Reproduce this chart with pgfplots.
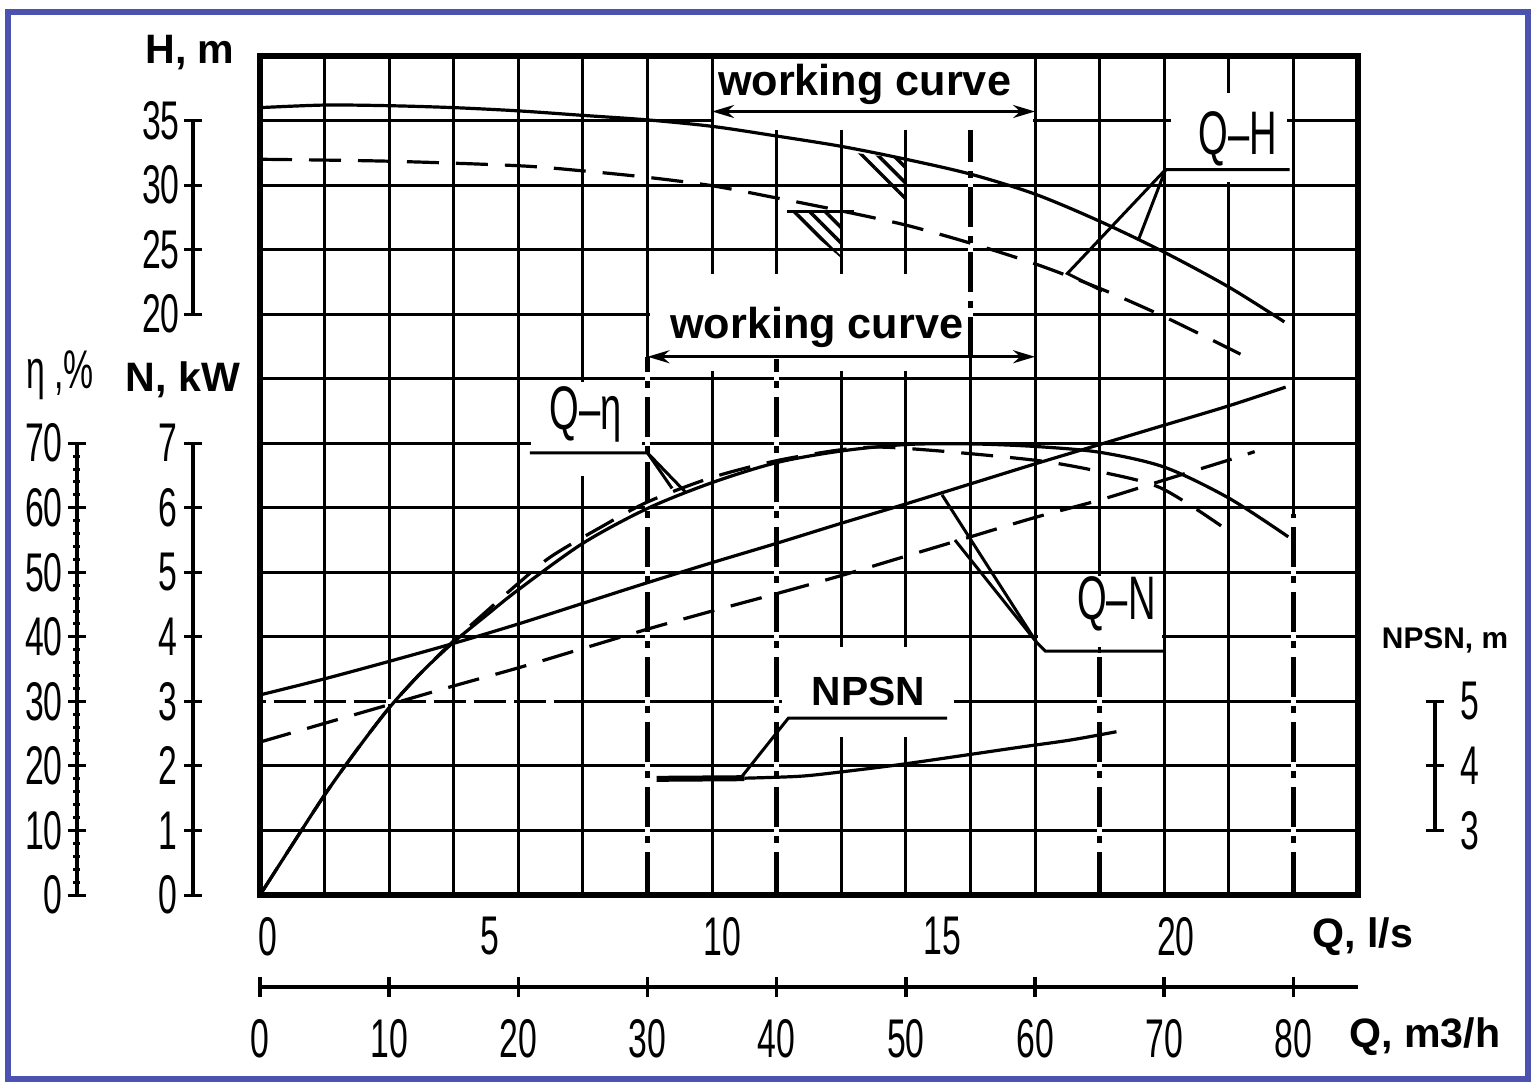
\documentclass[border=0pt]{standalone}
\usepackage{fontspec}
\setmainfont{Liberation Sans}
\newfontfamily\cond[FakeStretch=0.62]{Liberation Sans}
\usepackage{pgfplots}
\pgfplotsset{compat=1.18}
\usetikzlibrary{patterns,patterns.meta,arrows.meta}
\definecolor{frameblue}{RGB}{76,82,176}
\newcommand\tickfont{\cond\fontsize{15.5}{16}\selectfont}
\newcommand\curvefont{\cond\fontsize{17.5}{18}\selectfont}
\newcommand\namefont{\bfseries\fontsize{11.7}{13}\selectfont}
\pgfplotsset{
  base/.style={at={(0,0)}, anchor=south west, scale only axis, width=109.8mm, height=83.9mm, xmin=0, xmax=85},
  hid/.style={base, hide axis},
  curve/.style={black, line width=0.32mm, smooth, tension=0.5, no marks},
  dcurve/.style={curve, dash pattern=on 3.2mm off 1.7mm},
  bar/.style={scale only axis, width=1mm, xmin=0, xmax=1, hide x axis,
    axis line style={-, line width=0.35mm}, tick align=center,
    major tick length=1.8mm, minor tick length=1mm,
    tick style={black, line width=0.3mm}, yticklabel style={font=\tickfont},
    /pgf/number format/assume math mode=true},
}
\tikzset{wc/.style={line width=0.3mm, {Stealth[length=2.2mm,width=1.3mm]}-{Stealth[length=2.2mm,width=1.3mm]}},
  ld/.style={line width=0.3mm},
  dd/.style={black, line width=0.45mm, dash pattern=on 4mm off 0.9mm on 0.7mm off 0.9mm},
  wu/.style={white, line width=0.55mm},
  hatch/.style={pattern={Lines[angle=-45, distance=1.1mm, line width=0.35mm]}}}
\begin{document}
\begin{tikzpicture}
\fill[white] (-26mm,-18.7mm) rectangle (127.1mm,89.5mm);
\draw[frameblue, line width=0.55mm] (-25.2mm,-18.4mm) rectangle (126.8mm,88.3mm);

% ---------- grid axis (x: Q m3/h, y: grid units) ----------
\begin{axis}[base, ymin=0, ymax=13,
  xtick={0.6,17.8,35.8,52.8,70.9}, xticklabels={0,5,10,15,20},
  ytick={0,1,...,13}, yticklabels={},
  minor xtick={0,5,...,85},
  xminorgrids=true, ymajorgrids=true, xmajorgrids=false,
  minor grid style={black, line width=0.3mm}, major grid style={black, line width=0.3mm},
  major tick length=0pt, minor tick length=0pt,
  axis line style={line width=0.55mm},
  xticklabel style={font=\tickfont, yshift=-1.0mm},
  clip=false]
% label boxes
\fill[white] (axis cs:35.15,11.85) rectangle (axis cs:59.85,12.95);
\fill[white] (axis cs:30.2,8.12) rectangle (axis cs:54.85,9.62);
\fill[white] (axis cs:70.5,11.05) rectangle (axis cs:79.5,12.43);
\fill[white] (axis cs:21.0,6.5) rectangle (axis cs:29.55,7.95);
\fill[white] (axis cs:60.2,3.85) rectangle (axis cs:69.8,4.95);
\fill[white] (axis cs:40.4,2.45) rectangle (axis cs:53.7,3.84);
\draw[white, line width=0.5mm, dash pattern=on 0.8mm off 3.2mm] (axis cs:0.5,3) -- (axis cs:24,3);
% working range lines
\draw[wu] (axis cs:30,0.05) -- (axis cs:30,8.34); \draw[dd] (axis cs:30,0.05) -- (axis cs:30,8.34);
\draw[wu] (axis cs:40,0.05) -- (axis cs:40,8.3);  \draw[dd] (axis cs:40,0.05) -- (axis cs:40,8.3);
\draw[wu] (axis cs:55,8.34) -- (axis cs:55,11.85); \draw[dd] (axis cs:55,8.34) -- (axis cs:55,11.85);
\draw[wu] (axis cs:65,0.05) -- (axis cs:65,3.75); \draw[dd] (axis cs:65,0.05) -- (axis cs:65,3.75);
\draw[wu] (axis cs:80,0.05) -- (axis cs:80,5.9);  \draw[dd] (axis cs:80,0.05) -- (axis cs:80,5.9);
% hatches
\fill[hatch] (axis cs:46,11.5) -- (axis cs:50,11.40) -- (axis cs:50,10.75) -- cycle;
\fill[hatch] (axis cs:40.8,10.59) -- (axis cs:45.1,10.59) -- (axis cs:45.1,9.85) -- cycle;
\draw[ld] (axis cs:40.8,10.59) -- (axis cs:46,10.59);
% arrows
\draw[wc] (axis cs:35,12.14) -- (axis cs:60,12.14);
\draw[wc] (axis cs:30,8.34) -- (axis cs:60,8.34);
% labels
\node[font=\bfseries\fontsize{12.3}{14}\selectfont] at (axis cs:46.8,12.56) {working curve};
\node[font=\bfseries\fontsize{12.3}{14}\selectfont] at (axis cs:43.1,8.79) {working curve};
\node[font=\curvefont] at (axis cs:75.7,11.72) {Q–H};
\node[font=\curvefont] at (axis cs:25.2,7.44) {Q–η};
\node[font=\curvefont] at (axis cs:66.3,4.51) {Q–N};
\node[font=\bfseries\fontsize{11.6}{13}\selectfont] at (axis cs:47.1,3.15) {NPSN};
% underlines and leaders
\draw[ld] (axis cs:79.7,11.24) -- (axis cs:70.1,11.24) -- (axis cs:68.0,10.15);
\draw[ld] (axis cs:70.1,11.24) -- (axis cs:62.5,9.63) -- (axis cs:65.2,9.36);
\draw[ld] (axis cs:20.9,6.85) -- (axis cs:30.0,6.85) -- (axis cs:32.9,6.25);
\draw[ld] (axis cs:30.0,6.85) -- (axis cs:31.9,6.3);
\draw[ld] (axis cs:70.1,3.78) -- (axis cs:60.8,3.78) -- (axis cs:60.1,3.92) -- (axis cs:52.8,6.2);
\draw[ld] (axis cs:60.1,3.92) -- (axis cs:53.8,5.5);
\draw[ld] (axis cs:53.2,2.74) -- (axis cs:40.9,2.74) -- (axis cs:37.2,1.81);
\end{axis}

% ---------- Q-H ----------
\begin{axis}[hid, ymin=-25, ymax=40]
\addplot[curve] coordinates {(0,36.0) (5,36.2) (10,36.15) (15,36.0) (20,35.75) (25,35.4) (30,35.05) (35,34.55) (40,33.8) (45,33.0) (50,32.0) (55,30.85) (60,29.3) (65,27.2) (70,24.8) (75,22.1) (79.3,19.4)};
\addplot[dcurve] coordinates {(0,32.0) (10,31.85) (20,31.5) (25,31.1) (30,30.6) (35,29.95) (40,29.0) (45,28.0) (50,26.9) (55,25.5) (60,23.9) (65,22.0) (70,19.8) (75.9,16.9)};
\end{axis}

% ---------- Q-eta ----------
\begin{axis}[hid, ymin=0, ymax=130]
\addplot[curve] coordinates {(0,0) (2.5,7.8) (5,15.5) (7.5,22.5) (10,29.0) (12.5,34.5) (15,39.2) (17.5,43.3) (20,47.3) (25,54.5) (30,59.9) (35,63.9) (40,67.0) (45,68.8) (50,69.8) (55,69.9) (60,69.5) (65,68.6) (70,66.3) (75,61.5) (79.6,55.5)};
\addplot[dcurve] coordinates {(0,0) (2.5,7.8) (5,15.5) (7.5,22.5) (10,29.0) (12.5,34.5) (15,39.4) (17.5,43.9) (20,48.3) (22.5,52.4) (26.3,56.9) (30,60.9) (35,64.7) (40,67.3) (45,69.0) (48,69.4) (52,68.9) (57,68.0) (61,67.1) (65,65.6) (69.7,63.1) (74.4,57.2)};
\end{axis}

% ---------- Q-N ----------
\begin{axis}[hid, ymin=0, ymax=13]
\addplot[curve] coordinates {(0,3.10) (5,3.35) (10,3.62) (15,3.90) (20,4.20) (25,4.52) (30,4.84) (35,5.15) (40,5.45) (45,5.76) (50,6.06) (55,6.37) (60,6.68) (65,6.98) (70,7.28) (75,7.58) (79.4,7.87)};
\addplot[dcurve] coordinates {(0,2.37) (5,2.66) (10,2.95) (15,3.24) (20,3.52) (25,3.82) (30,4.12) (35,4.40) (40,4.67) (45,4.95) (50,5.25) (55,5.55) (60,5.85) (65,6.12) (70,6.43) (75,6.74) (77,6.87)};
\end{axis}

% ---------- NPSH ----------
\begin{axis}[hid, ymin=2, ymax=15]
\addplot[curve, line width=0.6mm] coordinates {(30.7,3.80) (37.5,3.81)};
\addplot[curve] coordinates {(37.5,3.81) (41.8,3.84) (45.1,3.91) (49.5,4.02) (54.7,4.17) (58.8,4.29) (62.7,4.40) (66.3,4.53)};
\end{axis}

% ---------- scale bars ----------
\begin{axis}[bar, at={(-6.7mm,58.08mm)}, anchor=south west, height=19.36mm, ymin=20, ymax=35, axis y line*=left, ytick={20,25,30,35}, yticklabel style={xshift=0.8mm}]
\end{axis}
\begin{axis}[bar, at={(-6.7mm,0mm)}, anchor=south west, height=45.18mm, ymin=0, ymax=7, axis y line*=left, ytick={0,1,...,7}, yticklabel style={xshift=0.6mm}]
\end{axis}
\begin{axis}[bar, at={(-18.3mm,0mm)}, anchor=south west, height=45.18mm, ymin=0, ymax=70, axis y line*=left, ytick={0,10,...,70}, minor tick num=4, minor tick length=0.7mm, yticklabel style={xshift=0.7mm}]
\end{axis}
\begin{axis}[bar, at={(117.5mm,6.454mm)}, anchor=south east, height=12.91mm, ymin=3, ymax=5, axis y line*=right, ytick={3,4,5}, yticklabel style={xshift=0.4mm}]
\end{axis}

% ---------- m3/h axis ----------
\begin{axis}[at={(0,-9.2mm)}, anchor=south west, scale only axis, width=109.8mm, height=1mm,
  xmin=0, xmax=85, ymin=0, ymax=1, hide y axis, axis x line*=bottom,
  axis line style={-, line width=0.45mm}, xtick={0,10,...,80}, tick align=center,
  major tick length=2mm, tick style={black, line width=0.35mm},
  /pgf/number format/assume math mode=true,
  xticklabel style={font=\tickfont, yshift=-1.0mm}]
\end{axis}

% ---------- axis names ----------
\node[font=\namefont] at (-7mm,84.2mm) {H, m};
\node[font=\namefont] at (-7.7mm,51.5mm) {N, kW};
\node[font=\tickfont] at (-20mm,52mm) {η\,,\%};
\node[font=\namefont] at (110.3mm,-4.2mm) {Q, l/s};
\node[font=\namefont] at (116.5mm,-14.2mm) {Q, m3/h};
\node[font=\bfseries\fontsize{8.5}{10}\selectfont] at (118.5mm,25.5mm) {NPSN, m};
\end{tikzpicture}
\end{document}
